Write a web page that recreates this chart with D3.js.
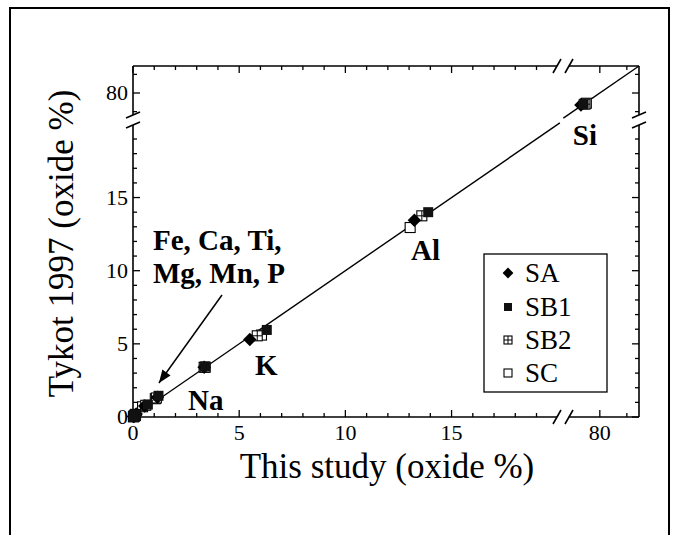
<!DOCTYPE html>
<html><head><meta charset="utf-8">
<script src="https://cdn.jsdelivr.net/npm/d3@7"></script>
<style>body{margin:0;background:#fff}svg{display:block}text{font-family:"Liberation Serif","DejaVu Serif",serif}</style>
</head><body>
<svg id="c" width="677" height="535"></svg>
<script>
// ---- data ----
const elements = ["Si","Al","K","Na","Fe","Ca","Ti","Mg","Mn","P"];
const saX  = [79.30, 13.25, 5.50, 3.35, 1.15, 0.55, 0.12, 0.15, 0.05, 0.02];
const saY  = [79.35, 13.45, 5.30, 3.40, 1.35, 0.75, 0.12, 0.20, 0.05, 0.03];
const sb1X = [79.40, 13.90, 6.30, 3.40, 1.20, 0.70, 0.13, 0.10, 0.06, 0.02];
const sb1Y = [79.40, 14.00, 5.95, 3.45, 1.45, 0.85, 0.14, 0.15, 0.06, 0.03];
const sb2X = [79.45, 13.60, 5.85, 3.40, 1.10, 0.60, 0.10, 0.12, 0.05, 0.02];
const sb2Y = [79.40, 13.75, 5.55, 3.40, 1.30, 0.80, 0.10, 0.18, 0.05, 0.02];
const scX  = [79.50, 13.05, 6.05, 3.35, 1.05, 0.45, 0.10, 0.10, 0.04, 0.03];
const scY  = [79.45, 12.95, 5.60, 3.40, 1.25, 0.70, 0.10, 0.15, 0.05, 0.02];
const seriesNames = ["SA","SB1","SB2","SC"];
const fitLow = [0, 20.1];
const fitHigh = [78.65, 81.45];
const xTicksLow = d3.range(0, 20, 1);
const xTicksHigh = [80, 81];
const yTicksLow = d3.range(0, 20, 1);
const yTicksHigh = [79, 80, 81];
const majorTicks = [0, 5, 10, 15, 80];
const labelTexts = ["Na","K","Al","Si"];
const labelX = [2.59, 5.74, 13.09, 79.0];
const labelY = [0.48, 2.87, 10.73, 18.6];
const groupLines = ["Fe, Ca, Ti,", "Mg, Mn, P"];
const groupX = 0.94, groupY = [11.4, 9.16];
const arrowFrom = [4.19, 8.34], arrowTo = [1.22, 2.32];

// ---- layout ----
const L = 133, R = 639, T = 66, B = 417, XB = 562, YB = 120;
const x1 = d3.scaleLinear().domain([0, 20.2]).range([L, XB]);
const x2 = d3.scaleLinear().domain([78.6, 81.45]).range([XB, R]);
const y1 = d3.scaleLinear().domain([0, 20.3]).range([B, YB]);
const y2 = d3.scaleLinear().domain([78.55, 81.45]).range([YB, T]);
const X = v => v < 50 ? x1(v) : x2(v);
const Y = v => v < 50 ? y1(v) : y2(v);

const svg = d3.select("#c");

// outer frame
svg.append("rect").attr("x", 10).attr("y", 8).attr("width", 659).attr("height", 560)
  .attr("fill", "none").attr("stroke", "#000").attr("stroke-width", 2);

// axes lines with gaps
const ax = svg.append("g").attr("stroke", "#000").attr("stroke-width", 1.6).attr("fill", "none");
const gx0 = XB - 5, gx1 = XB + 7, gy0 = YB - 5, gy1 = YB + 5;
[[L, gx0], [gx1, R]].forEach(([a, b]) => {
  ax.append("line").attr("x1", a).attr("x2", b).attr("y1", B).attr("y2", B);
  ax.append("line").attr("x1", a).attr("x2", b).attr("y1", T).attr("y2", T);
});
[[T, gy0], [gy1, B]].forEach(([a, b]) => {
  ax.append("line").attr("y1", a).attr("y2", b).attr("x1", L).attr("x2", L);
  ax.append("line").attr("y1", a).attr("y2", b).attr("x1", R).attr("x2", R);
});
// break marks
[gx0, gx1].forEach(x => [B, T].forEach(y => {
  ax.append("line").attr("x1", x - 4).attr("y1", y + 7).attr("x2", x + 4).attr("y2", y - 7);
}));
[gy0, gy1].forEach(y => [L, R].forEach(x => {
  ax.append("line").attr("x1", x - 7).attr("y1", y + 3).attr("x2", x + 7).attr("y2", y - 3);
}));

// ticks
const tk = svg.append("g").attr("stroke", "#000").attr("stroke-width", 1.3);
const xt = xTicksLow.concat(xTicksHigh);
xt.forEach(v => {
  const len = majorTicks.includes(v) ? 7 : 4;
  tk.append("line").attr("x1", X(v)).attr("x2", X(v)).attr("y1", B).attr("y2", B - len);
  tk.append("line").attr("x1", X(v)).attr("x2", X(v)).attr("y1", T).attr("y2", T + len);
});
const yt = yTicksLow.concat(yTicksHigh);
yt.forEach(v => {
  const len = majorTicks.includes(v) ? 7 : 4;
  tk.append("line").attr("y1", Y(v)).attr("y2", Y(v)).attr("x1", L).attr("x2", L + len);
  tk.append("line").attr("y1", Y(v)).attr("y2", Y(v)).attr("x1", R).attr("x2", R - len);
});

// tick labels
const tl = svg.append("g").attr("font-size", 22).attr("fill", "#000");
majorTicks.forEach(v => {
  tl.append("text").attr("x", X(v)).attr("y", B + 23).attr("text-anchor", "middle").text(v);
  tl.append("text").attr("x", L - 5).attr("y", Y(v) + 7).attr("text-anchor", "end").text(v);
});

// axis titles
svg.append("text").attr("x", (L + R) / 2 + 1).attr("y", 478).attr("text-anchor", "middle")
  .attr("font-size", 35).text("This study (oxide %)");
svg.append("text").attr("transform", `translate(73,${(T + B) / 2 + 2}) rotate(-90)`)
  .attr("text-anchor", "middle").attr("font-size", 35)
  .text("Tykot 1997 (oxide %)");

// fit line
const ln = d3.line().x(d => X(d)).y(d => Y(d));
[fitLow, fitHigh].forEach(seg => {
  svg.append("path").attr("d", ln(seg)).attr("fill", "none").attr("stroke", "#000").attr("stroke-width", 1.4);
});

// markers
function marker(g, type, s) {
  const h = s / 2;
  if (type === 0) {
    const d = h * 1.35;
    g.append("path").attr("d", `M0,${-d}L${d},0L0,${d}L${-d},0Z`).attr("fill", "#000");
  } else if (type === 1) {
    g.append("rect").attr("x", -h).attr("y", -h).attr("width", s).attr("height", s).attr("fill", "#111");
  } else if (type === 2) {
    g.append("rect").attr("x", -h).attr("y", -h).attr("width", s).attr("height", s)
      .attr("fill", "#fff").attr("stroke", "#000").attr("stroke-width", 1.1);
    g.append("path").attr("d", `M${-h},0H${h}M0,${-h}V${h}`).attr("stroke", "#000").attr("stroke-width", 1);
  } else {
    g.append("rect").attr("x", -h).attr("y", -h).attr("width", s).attr("height", s)
      .attr("fill", "#fff").attr("stroke", "#000").attr("stroke-width", 1.1);
  }
}
const seriesData = [[saX, saY], [sb1X, sb1Y], [sb2X, sb2Y], [scX, scY]];
const pts = svg.append("g");
[3, 2, 0, 1].forEach(si => {
  const [xs, ys] = seriesData[si];
  elements.forEach((e, i) => {
    const g = pts.append("g").attr("transform", `translate(${X(xs[i])},${Y(ys[i])})`);
    marker(g, si, 10);
  });
});

// element labels
const lb = svg.append("g").attr("font-weight", "bold").attr("font-size", 29);
labelTexts.forEach((t, i) => lb.append("text").attr("x", X(labelX[i])).attr("y", Y(labelY[i])).text(t));
groupLines.forEach((t, i) => lb.append("text").attr("x", X(groupX)).attr("y", Y(groupY[i])).text(t));

// arrow
const ax0 = X(arrowFrom[0]), ay0 = Y(arrowFrom[1]), ax1 = X(arrowTo[0]), ay1 = Y(arrowTo[1]);
svg.append("line").attr("x1", ax0).attr("y1", ay0).attr("x2", ax1).attr("y2", ay1)
  .attr("stroke", "#000").attr("stroke-width", 1.5);
const ang = Math.atan2(ay1 - ay0, ax1 - ax0);
const hl = 13, hw = 5;
const bx = ax1 - hl * Math.cos(ang), by = ay1 - hl * Math.sin(ang);
svg.append("path").attr("d",
  `M${ax1},${ay1}L${bx + hw * Math.sin(ang)},${by - hw * Math.cos(ang)}L${bx - hw * Math.sin(ang)},${by + hw * Math.cos(ang)}Z`)
  .attr("fill", "#000");

// legend
const lg = svg.append("g");
lg.append("rect").attr("x", 484).attr("y", 254).attr("width", 123).attr("height", 138)
  .attr("fill", "#fff").attr("stroke", "#000").attr("stroke-width", 1.3);
const legY = [273, 307, 340, 373];
seriesNames.forEach((n, i) => {
  const g = lg.append("g").attr("transform", `translate(508,${legY[i]})`);
  marker(g, i, 8);
  lg.append("text").attr("x", 525).attr("y", legY[i] + 9).attr("font-size", 27).text(n);
});
</script>
</body></html>
